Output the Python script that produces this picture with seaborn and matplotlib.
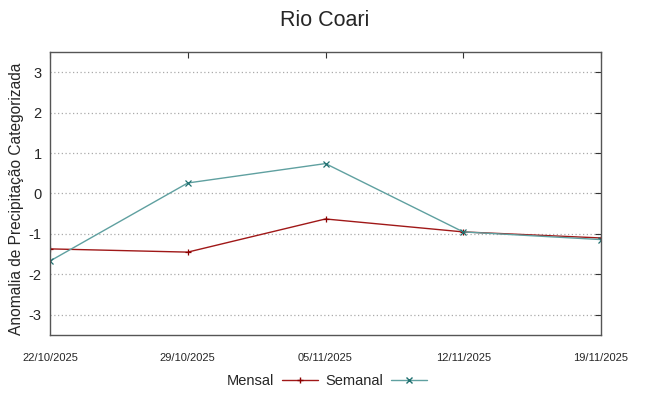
import pandas as pd
import matplotlib
matplotlib.use("Agg")
import matplotlib.pyplot as plt
import seaborn as sns

# values
dates = ["2025-10-22", "2025-10-29", "2025-11-05", "2025-11-12", "2025-11-19"]
date_labels = ["22/10/2025", "29/10/2025", "05/11/2025", "12/11/2025", "19/11/2025"]
mensal = [-1.37, -1.45, -0.63, -0.95, -1.10]
semanal = [-1.67, 0.26, 0.74, -0.95, -1.14]

df = pd.DataFrame({
    "data": pd.to_datetime(dates).tolist() * 2,
    "anomalia": mensal + semanal,
    "serie": ["Mensal"] * len(mensal) + ["Semanal"] * len(semanal),
})

sns.set_style("white")
plt.rcParams["font.family"] = ["Liberation Sans", "DejaVu Sans"]

fig = plt.figure(figsize=(6.49, 3.96), dpi=100)
ax = fig.add_axes([50 / 649, 1 - 335 / 396, 551 / 649, 283 / 396])

palette = {"Mensal": "#a01818", "Semanal": "#5fa0a0"}
sns.lineplot(data=df, x="data", y="anomalia", hue="serie", style="serie",
             markers={"Mensal": "+", "Semanal": "x"}, dashes=False,
             palette=palette, linewidth=1.0, markersize=5, markeredgewidth=0.9,
             ax=ax, legend=False)
for line, c in zip(ax.get_lines(), ["#8b0000", "#207070"]):
    line.set_markeredgecolor(c)

ax.set_xlim(pd.Timestamp(dates[0]), pd.Timestamp(dates[-1]))
ax.set_ylim(-3.5, 3.5)
ax.set_xticks(pd.to_datetime(dates))
ax.set_xticklabels(date_labels, fontsize=8)
ax.set_yticks([-3, -2, -1, 0, 1, 2, 3])
ax.set_yticklabels(["-3", "-2", "-1", "0", "1", "2", "3"], fontsize=10.5)
ax.tick_params(axis="x", direction="in", top=True, length=4, pad=13, color="#333333")
ax.tick_params(axis="y", direction="in", right=True, length=4, pad=6, color="#333333")
ax.yaxis.grid(True, linestyle=(0, (1, 2)), color="#aaaaaa", linewidth=0.9)
for s in ax.spines.values():
    s.set_color("#555555")
    s.set_linewidth(1.0)

ax.set_xlabel("")
ax.set_ylabel("Anomalia de Precipitação Categorizada", fontsize=11.2)
ax.yaxis.set_label_coords(-0.048, 0.48)
fig.suptitle("Rio Coari", fontsize=15.5, y=0.975)

handles = [
    plt.Line2D([], [], color=palette["Mensal"], marker="+", markeredgecolor="#8b0000",
               linewidth=1.0, markersize=5),
    plt.Line2D([], [], color=palette["Semanal"], marker="x", markeredgecolor="#207070",
               linewidth=1.0, markersize=4.5),
]
fig.legend(handles, ["Mensal", "Semanal"], loc="center", bbox_to_anchor=(327 / 649, 1 - 381 / 396),
           ncol=2, frameon=False, markerfirst=False, numpoints=1, handlelength=2.5,
           columnspacing=0.5, handletextpad=0.5, fontsize=10.5)

fig.savefig("out.png", dpi=100)
